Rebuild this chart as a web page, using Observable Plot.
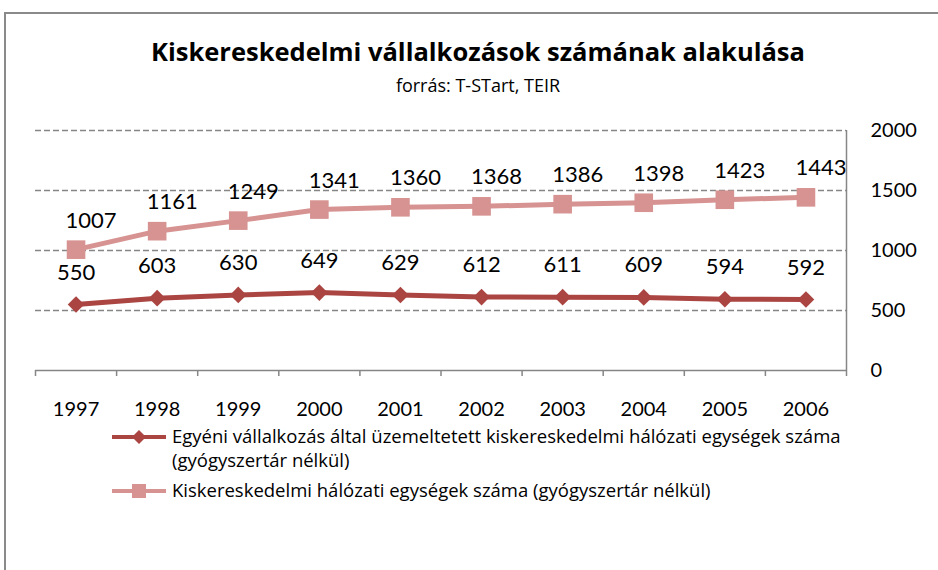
<!DOCTYPE html>
<html>
<head>
<meta charset="utf-8">
<script src="https://cdn.jsdelivr.net/npm/d3@7"></script>
<script src="https://cdn.jsdelivr.net/npm/@observablehq/plot@0.6"></script>
<style>
  html, body { margin: 0; padding: 0; background: #fff; overflow: hidden; }
  body { width: 938px; height: 570px; position: relative; font-family: "Open Sans", Lato, sans-serif; }
  #frame { position: absolute; left: 4px; top: 12px; width: 960px; height: 600px; border: 2px solid #8a8a8a; box-sizing: border-box; }
  #title { position: absolute; left: 0; width: 956px; top: 34px; text-align: center; font-weight: bold; font-size: 25.5px; color: #000; white-space: nowrap; }
  #subtitle { position: absolute; left: 0; width: 956px; top: 73px; text-align: center; font-size: 18px; color: #000; }
  #chart { position: absolute; left: 0; top: 110px; }
  #legend { position: absolute; left: 110px; top: 424px; font-size: 18.5px; color: #000; line-height: 24px; }
  .lg-row { display: flex; align-items: flex-start; }
  .lg-row svg { flex: none; margin-top: 1px; }
  .lg-text { margin-left: 6px; }
</style>
</head>
<body>
<div id="frame"></div>
<div id="title">Kiskereskedelmi vállalkozások számának alakulása</div>
<div id="subtitle">forrás: T-STart, TEIR</div>
<div id="chart"></div>
<div id="legend"></div>
<script>
const years = [1997, 1998, 1999, 2000, 2001, 2002, 2003, 2004, 2005, 2006];
const egyeni = [550, 603, 630, 649, 629, 612, 611, 609, 594, 592];
const osszes = [1007, 1161, 1249, 1341, 1360, 1368, 1386, 1398, 1423, 1443];
const seriesNames = [
  "Egyéni vállalkozás által üzemeltetett kiskereskedelmi hálózati egységek száma (gyógyszertár nélkül)",
  "Kiskereskedelmi hálózati egységek száma (gyógyszertár nélkül)"
];
const yTicks = [0, 500, 1000, 1500, 2000];

const darkColor = "#AA4542";
const lightColor = "#D69391";
const gridColor = "#868686";

const dark = years.map((y, i) => ({year: y, value: egyeni[i]}));
const light = years.map((y, i) => ({year: y, value: osszes[i]}));
const bounds = d3.range(years.length + 1).map(i => years[0] - 0.5 + i);

const plot = Plot.plot({
  width: 938,
  height: 320,
  marginLeft: 35,
  marginRight: 92,
  marginTop: 20,
  marginBottom: 60,
  style: {fontFamily: "Lato, 'Open Sans', sans-serif", background: "transparent"},
  x: {domain: [years[0] - 0.5, years[years.length - 1] + 0.5], label: null},
  y: {domain: [0, 2000], label: null},
  marks: [
    Plot.ruleY(yTicks.filter(d => d > 0), {stroke: gridColor, strokeWidth: 1.5, strokeDasharray: "6,3"}),
    Plot.ruleY([0], {stroke: gridColor, strokeWidth: 1.5}),
    Plot.ruleX([bounds[bounds.length - 1]], {y1: 0, y2: 2000, stroke: gridColor, strokeWidth: 1.5}),
    Plot.axisX({ticks: bounds, tickFormat: () => "", tickSize: 6, stroke: gridColor, strokeWidth: 1.5, strokeOpacity: 1, label: null}),
    Plot.axisX({ticks: years, tickFormat: d => String(d), tickSize: 0, tickPadding: 31, fontSize: 20, fill: "#000", label: null}),
    Plot.axisY({anchor: "right", ticks: yTicks, tickFormat: d => String(d), tickSize: 0, tickPadding: 24, fontSize: 20, fill: "#000", label: null}),
    Plot.line(light, {x: "year", y: "value", stroke: lightColor, strokeWidth: 5}),
    Plot.dot(light, {x: "year", y: "value", symbol: "square", r: 10.5, fill: lightColor}),
    Plot.line(dark, {x: "year", y: "value", stroke: darkColor, strokeWidth: 5}),
    Plot.dot(dark, {x: "year", y: "value", symbol: "diamond2", r: 7.5, fill: darkColor, stroke: "none"}),
    Plot.text(light, {x: "year", y: "value", text: d => String(d.value), dy: -29, dx: 15, fontSize: 22, fill: "#000"}),
    Plot.text(dark, {x: "year", y: "value", text: d => String(d.value), dy: -32, fontSize: 22, fill: "#000"})
  ]
});
document.getElementById("chart").appendChild(plot);

// legend
const legend = d3.select("#legend");
const entries = [
  {name: seriesNames[0], color: darkColor, shape: "diamond"},
  {name: seriesNames[1], color: lightColor, shape: "square"}
];
entries.forEach((e, i) => {
  const row = legend.append("div").attr("class", "lg-row").style("margin-top", i ? "6px" : "0");
  const svg = row.append("svg").attr("width", 56).attr("height", 24);
  svg.append("line").attr("x1", 2).attr("x2", 56).attr("y1", 12).attr("y2", 12)
    .attr("stroke", e.color).attr("stroke-width", 4);
  if (e.shape === "diamond") {
    svg.append("path").attr("d", "M29,5L36,12L29,19L22,12Z").attr("fill", e.color);
  } else {
    svg.append("rect").attr("x", 22).attr("y", 5).attr("width", 14).attr("height", 14).attr("fill", e.color);
  }
  row.append("div").attr("class", "lg-text").style("width", "700px").text(e.name);
});
</script>
</body>
</html>
